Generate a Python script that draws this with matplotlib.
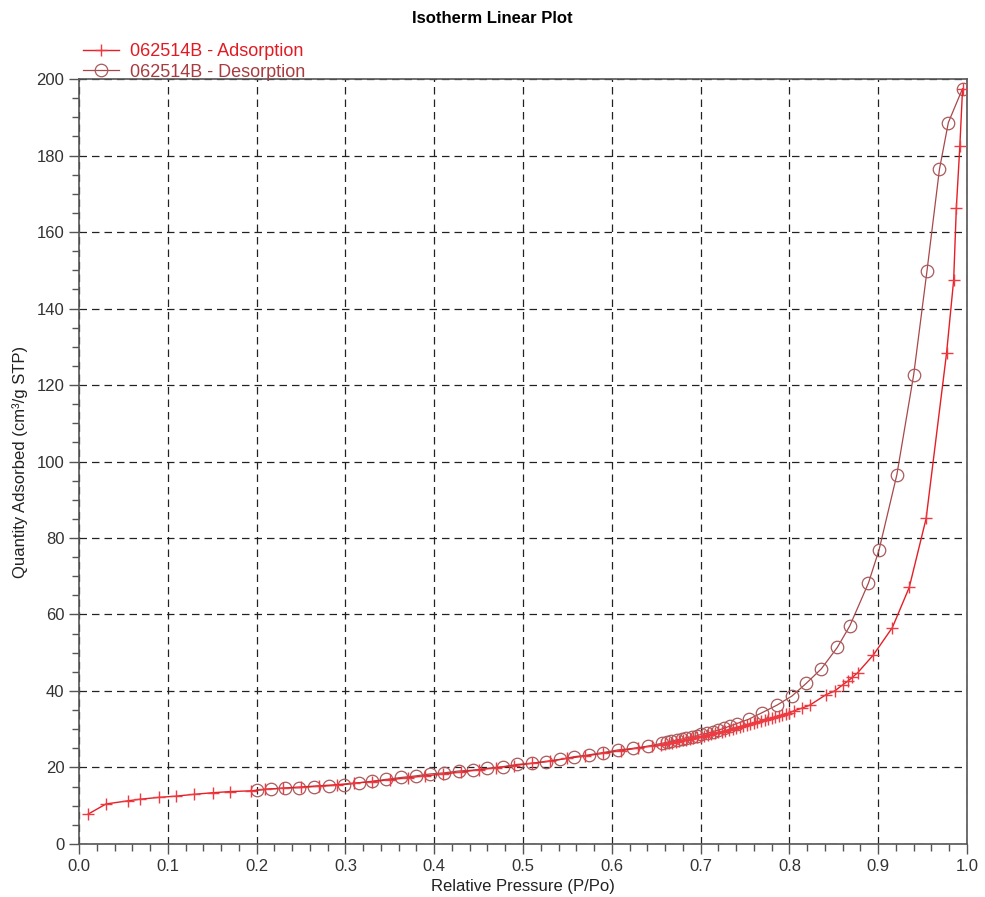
import numpy as np
import matplotlib.pyplot as plt
from matplotlib.ticker import MultipleLocator

plt.rcParams['font.family'] = ['Liberation Sans', 'DejaVu Sans']

# adsorption branch (P/Po, cm3/g STP)
ads_p = [0.0105, 0.0304, 0.0555, 0.0687, 0.0904, 0.109, 0.130, 0.1506, 0.170, 0.1934,
         0.21, 0.23, 0.25, 0.27, 0.29, 0.31, 0.33, 0.35, 0.37, 0.39, 0.41, 0.43, 0.45,
         0.47, 0.49, 0.51, 0.53, 0.55, 0.57, 0.59, 0.61, 0.63, 0.645,
         0.655, 0.660, 0.664, 0.668, 0.672, 0.676, 0.680, 0.684, 0.688, 0.692, 0.696,
         0.700, 0.704, 0.708, 0.712, 0.716, 0.720, 0.724, 0.728, 0.732, 0.736, 0.740,
         0.744, 0.748, 0.752, 0.756, 0.760, 0.764, 0.768, 0.772, 0.776, 0.780, 0.784,
         0.788, 0.792, 0.796, 0.800, 0.805,
         0.814, 0.823, 0.841, 0.851, 0.860, 0.866, 0.871, 0.877, 0.8945, 0.916, 0.935,
         0.954, 0.977, 0.985, 0.988, 0.992, 0.995]
ads_q = [7.84, 10.46, 11.3, 11.7, 12.2, 12.5, 13.0, 13.4, 13.7, 13.9,
         14.3, 14.6, 14.9, 15.2, 15.5, 15.9, 16.3, 16.8, 17.3, 17.8, 18.3, 18.8, 19.4,
         19.9, 20.5, 21.1, 21.7, 22.4, 23.0, 23.7, 24.4, 25.1, 25.6,
         25.9, 26.1, 26.3, 26.5, 26.7, 26.9, 27.1, 27.3, 27.5, 27.7, 27.9,
         28.1, 28.3, 28.5, 28.7, 28.95, 29.2, 29.4, 29.65, 29.9, 30.15, 30.4,
         30.65, 30.9, 31.15, 31.4, 31.65, 31.9, 32.15, 32.4, 32.65, 32.9, 33.15,
         33.4, 33.7, 34.0, 34.3, 34.8,
         35.5, 36.3, 39.0, 40.0, 41.6, 42.6, 43.6, 44.8, 49.4, 56.6, 67.1,
         85.1, 128.3, 147.4, 166.2, 182.6, 197.3]

# desorption branch
des_p = [0.995, 0.979, 0.969, 0.955, 0.940, 0.921, 0.901, 0.889, 0.868, 0.854, 0.836,
         0.819, 0.803, 0.786, 0.769, 0.754, 0.741, 0.733, 0.726, 0.720, 0.714, 0.707,
         0.701, 0.696, 0.690, 0.684, 0.679, 0.673, 0.667, 0.662, 0.656, 0.641, 0.624,
         0.607, 0.590, 0.574, 0.557, 0.542, 0.526, 0.510, 0.493, 0.477, 0.460, 0.444,
         0.428, 0.411, 0.395, 0.379, 0.363, 0.346, 0.330, 0.315, 0.298, 0.282, 0.265,
         0.248, 0.232, 0.216, 0.200]
des_q = [197.5, 188.6, 176.4, 149.9, 122.7, 96.5, 76.9, 68.2, 57.0, 51.4, 45.8,
         42.0, 38.7, 36.3, 34.3, 32.6, 31.5, 30.85, 30.2, 29.8, 29.4, 28.9,
         28.7, 28.3, 28.05, 27.8, 27.45, 27.2, 26.9, 26.6, 26.3, 25.6, 25.0,
         24.6, 23.9, 23.3, 22.8, 22.1, 21.5, 21.1, 20.8, 20.2, 19.8, 19.3,
         19.1, 18.6, 18.3, 17.8, 17.4, 16.9, 16.4, 16.0, 15.5, 15.2, 15.0,
         14.7, 14.6, 14.4, 14.1]

ads_color = '#e61e25'
des_color = '#a8484a'

fig = plt.figure(figsize=(9.85, 8.97), dpi=100)
ax = fig.add_axes([0.0802, 0.0591, 0.9015, 0.8528])

ax.plot(ads_p, ads_q, color=ads_color, lw=1.0, marker='+', ms=9, mew=1.0,
        mec='#ee3a40', label='062514B - Adsorption', zorder=4)
ax.plot(des_p, des_q, color=des_color, lw=0.9, marker='o', ms=9, mew=0.9,
        mfc='none', mec='#a85a5c', label='062514B - Desorption', zorder=3)

ax.set_xlim(0, 1)
ax.set_ylim(0, 200)
ax.xaxis.set_major_locator(MultipleLocator(0.1))
ax.xaxis.set_minor_locator(MultipleLocator(0.02))
ax.yaxis.set_major_locator(MultipleLocator(20))
ax.yaxis.set_minor_locator(MultipleLocator(5))
ax.set_xticklabels([f'{v:.1f}' for v in ax.get_xticks()])

ax.grid(True, which='major', color='#222222', linestyle=(0, (6, 4)), lw=0.9)
ax.tick_params(which='major', direction='out', length=7, width=1, color='#555555',
               labelsize=12, labelcolor='#333333')
ax.tick_params(which='minor', direction='out', length=5, width=1, color='#555555')
for s in ax.spines.values():
    s.set_color('#555555')
    s.set_linewidth(1.2)

ax.set_xlabel('Relative Pressure (P/Po)', fontsize=12, color='#222222', labelpad=4)
ax.set_ylabel('Quantity Adsorbed (cm³/g STP)', fontsize=12, color='#222222', labelpad=6)
fig.suptitle('Isotherm Linear Plot', fontsize=12, fontweight='bold', y=0.988)

leg = ax.legend(loc='upper left', bbox_to_anchor=(0.077, 0.96), bbox_transform=fig.transFigure,
                frameon=False, fontsize=13, handlelength=2.0, handletextpad=0.6,
                labelspacing=0.2, borderaxespad=0)
leg.get_texts()[0].set_color('#e01b22')
leg.get_texts()[1].set_color('#a83c40')

fig.savefig('out.png', dpi=100)
